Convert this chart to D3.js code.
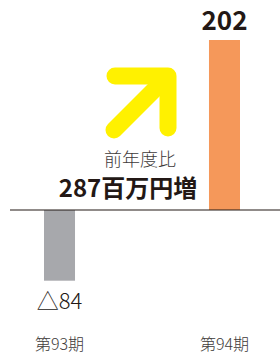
<!DOCTYPE html>
<html>
<head>
<meta charset="utf-8">
<script src="https://cdnjs.cloudflare.com/ajax/libs/d3/7.8.5/d3.min.js"></script>
<style>
  body { margin: 0; background: #fff; }
  svg { display: block; font-family: "Noto Sans CJK JP", "Noto Sans", sans-serif; }
</style>
</head>
<body>
<svg id="chart"></svg>
<script>
// periods and profit values (million yen)
var periods = ["第93期", "第94期"];
var values = [-84, 202];
var colors = ["#a7a8ac", "#f5985a"];
var noteLines = ["前年度比", "287百万円増"];

var width = 280, height = 354;
var svg = d3.select("#chart").attr("width", width).attr("height", height);

var x = d3.scaleBand().domain(periods).range([44, 240]).paddingInner(0.812).paddingOuter(0);
var y = d3.scaleLinear().domain([0, 202]).range([210, 40]);

// bars
svg.selectAll("rect.bar")
  .data(values)
  .enter().append("rect")
    .attr("class", "bar")
    .attr("x", (d, i) => x(periods[i]))
    .attr("width", x.bandwidth())
    .attr("y", d => y(Math.max(0, d)))
    .attr("height", d => Math.abs(y(d) - y(0)))
    .attr("fill", (d, i) => colors[i]);

// zero line
svg.append("line")
  .attr("x1", 10).attr("x2", width)
  .attr("y1", y(0)).attr("y2", y(0))
  .attr("stroke", "#231815").attr("stroke-width", 1.2);

// value labels
var fmt = d => d < 0 ? "△" + Math.abs(d) : "" + d;
svg.selectAll("text.val")
  .data(values)
  .enter().append("text")
    .attr("class", "val")
    .attr("x", (d, i) => x(periods[i]) + x.bandwidth() / 2)
    .attr("y", d => d < 0 ? y(d) + 28 : y(d) - 10)
    .attr("text-anchor", "middle")
    .attr("fill", "#231815")
    .attr("font-size", d => d < 0 ? 22 : 26)
    .attr("font-weight", d => d < 0 ? 300 : 700)
    .text(fmt);

// period labels
svg.selectAll("text.cat")
  .data(periods)
  .enter().append("text")
    .attr("class", "cat")
    .attr("x", d => x(d) + x.bandwidth() / 2)
    .attr("y", 350)
    .attr("text-anchor", "middle")
    .attr("fill", "#3e3a39")
    .attr("font-size", 16)
    .attr("font-weight", 300)
    .text(d => d);

// yellow arrow
var arrow = svg.append("g")
  .attr("fill", "none")
  .attr("stroke", "#fff100")
  .attr("stroke-width", 17)
  .attr("stroke-linecap", "round")
  .attr("stroke-linejoin", "round");
arrow.append("path").attr("d", "M115,76 L168,76 L168,128");
arrow.append("path").attr("d", "M166,78 L114,130");

// note text
svg.append("text")
  .attr("x", 140).attr("y", 166)
  .attr("text-anchor", "middle")
  .attr("fill", "#3e3a39")
  .attr("font-size", 18)
  .attr("font-weight", 300)
  .text(noteLines[0]);
svg.append("text")
  .attr("x", 128).attr("y", 197)
  .attr("text-anchor", "middle")
  .attr("fill", "#231815")
  .attr("font-size", 24)
  .attr("font-weight", 700)
  .text(noteLines[1]);
</script>
</body>
</html>
